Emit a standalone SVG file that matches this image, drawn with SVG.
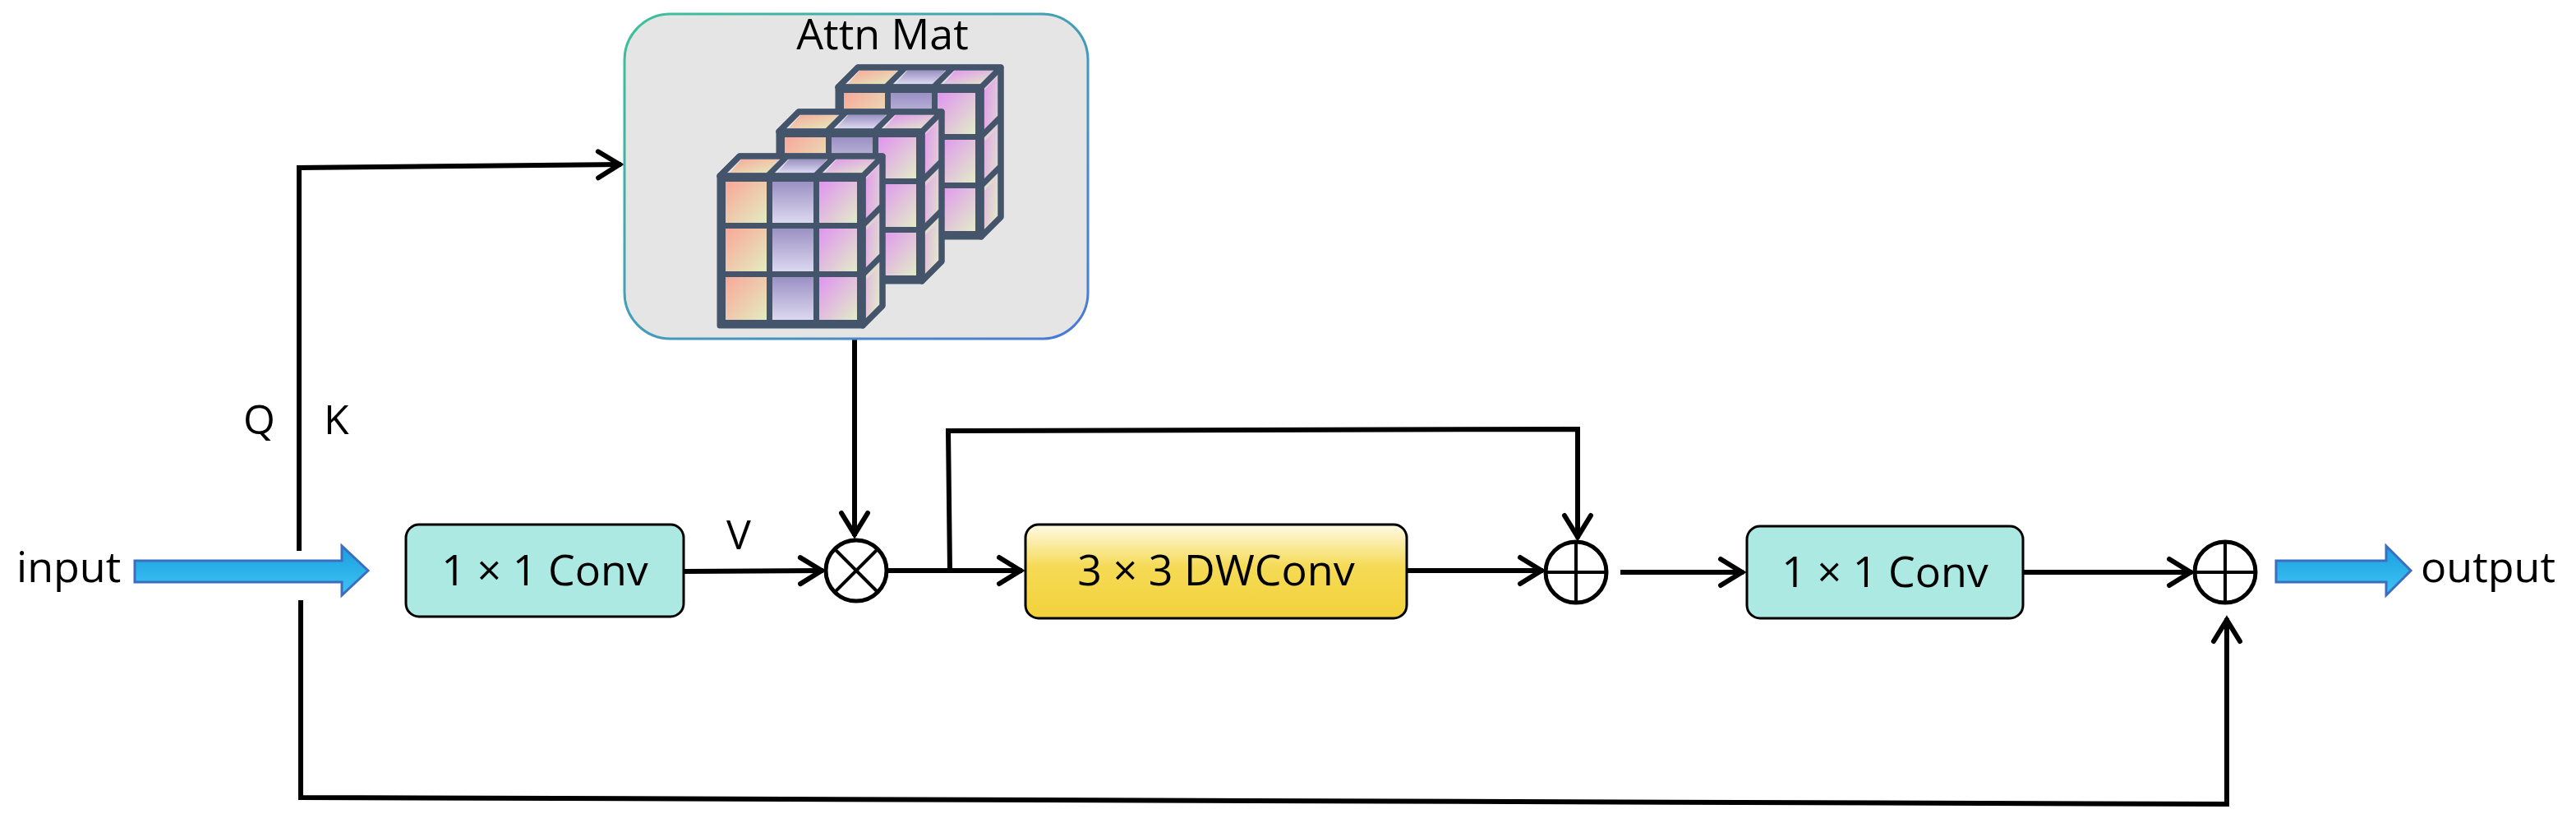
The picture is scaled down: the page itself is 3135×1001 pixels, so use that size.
<svg xmlns="http://www.w3.org/2000/svg" width="3135" height="1001" viewBox="0 0 3135 1001">
<style>
.t{font-family:"Open Sans","Liberation Sans",sans-serif;fill:#000}
.c{fill:none;stroke:#000;stroke-width:6}
.cube{stroke:#44546a;stroke-width:7;stroke-linejoin:round}
</style>
<defs>
<marker id="ar" viewBox="-30 -20 36 40" refX="2" refY="0" markerWidth="36" markerHeight="40" markerUnits="userSpaceOnUse" orient="auto">
<path d="M-26,-16 L0,0 L-26,16" fill="none" stroke="#000" stroke-width="6" stroke-linecap="round" stroke-linejoin="miter"/>
</marker>
<linearGradient id="bd" x1="0" y1="0" x2="1" y2="1"><stop offset="0" stop-color="#3dc29a"/><stop offset="1" stop-color="#4a78d6"/></linearGradient>
<linearGradient id="yl" x1="0" y1="0" x2="0" y2="1"><stop offset="0" stop-color="#fffbe6"/><stop offset="0.45" stop-color="#f5da55"/><stop offset="1" stop-color="#f2d23a"/></linearGradient>
<linearGradient id="bl" x1="0" y1="0" x2="0" y2="1"><stop offset="0" stop-color="#1a9edf"/><stop offset="1" stop-color="#40c4f4"/></linearGradient>
<linearGradient id="g1" x1="0" y1="0" x2="1" y2="1"><stop offset="0" stop-color="#f9a898"/><stop offset="1" stop-color="#e3ecc0"/></linearGradient>
<linearGradient id="g2" x1="0" y1="0" x2="0" y2="1"><stop offset="0" stop-color="#9b91c4"/><stop offset="1" stop-color="#dcd8ef"/></linearGradient>
<linearGradient id="g3" x1="0" y1="0" x2="1" y2="1"><stop offset="0" stop-color="#e094f0"/><stop offset="1" stop-color="#e2ecc8"/></linearGradient>
<g id="cub">
<path class="cube" d="M0,0 L24,-24 L198,-24 L198,158 L174,182 L174,0 Z" fill="url(#g3)"/>
<path class="cube" d="M0,0 L24,-24 L198,-24 L174,0 Z" fill="#e8e4ee"/>
<rect class="cube" x="0" y="0" width="174" height="182" fill="#44546a"/>
<rect x="7" y="7" width="50" height="50" fill="url(#g1)"/><rect x="64" y="7" width="50" height="50" fill="url(#g2)"/><rect x="121" y="7" width="46" height="50" fill="url(#g3)"/>
<rect x="7" y="64" width="50" height="52" fill="url(#g1)"/><rect x="64" y="64" width="50" height="52" fill="url(#g2)"/><rect x="121" y="64" width="46" height="52" fill="url(#g3)"/>
<rect x="7" y="123" width="50" height="52" fill="url(#g1)"/><rect x="64" y="123" width="50" height="52" fill="url(#g2)"/><rect x="121" y="123" width="46" height="52" fill="url(#g3)"/>
<path d="M12,-4 L26,-20 L72,-20 L58,-4 Z" fill="url(#g1)"/><path d="M70,-4 L84,-20 L130,-20 L116,-4 Z" fill="url(#g2)"/><path d="M128,-4 L142,-20 L192,-20 L176,-4 Z" fill="url(#g3)"/>
<path d="M178,4 L194,-12 L194,36 L178,52 Z M178,66 L194,50 L194,96 L178,112 Z M178,126 L194,110 L194,156 L178,172 Z" fill="url(#g3)" opacity="0.8"/>
<path class="cube" d="M0,0 L24,-24 L198,-24 L174,0 Z M58,0 L82,-24 M116,0 L140,-24 M174,0 L174,182 M174,60 L198,36 M174,120 L198,96 M198,-24 L198,158 L174,182" fill="none"/>
</g>
</defs>

<g id="connectors">
<path class="c" d="M364,670 L364,204 L756,200" marker-end="url(#ar)"/>
<path class="c" d="M366,730 L366,970 L2710,978 L2710,752" marker-end="url(#ar)"/>
<path class="c" d="M1040,412 L1040,652" marker-end="url(#ar)"/>
<path class="c" d="M832,695 L1002,694" marker-end="url(#ar)"/>
<path class="c" d="M1079,694 L1244,694" marker-end="url(#ar)"/>
<path class="c" d="M1156,694 L1154,524 L1920,522 L1920,655" marker-end="url(#ar)"/>
<path class="c" d="M1712,694 L1878,694" marker-end="url(#ar)"/>
<path class="c" d="M1972,696 L2122,696" marker-end="url(#ar)"/>
<path class="c" d="M2462,696 L2668,696" marker-end="url(#ar)"/>
</g>

<g id="attn">
<rect x="760" y="17" width="564" height="395" rx="56" fill="#e5e5e5" stroke="url(#bd)" stroke-width="3"/>
<text class="t" x="1074" y="60" font-size="52" text-anchor="middle">Attn Mat</text>
<use href="#cub" x="1020" y="106"/>
<use href="#cub" x="948" y="160"/>
<use href="#cub" x="876" y="214"/>
</g>

<g id="input">
<text class="t" x="20" y="708" font-size="52">input</text>
<path d="M164,682 L416,682 L416,664 L448,694 L416,724 L416,708 L164,708 Z" fill="url(#bl)" stroke="#3c6ec0" stroke-width="3"/>
</g>
<text class="t" x="296" y="528" font-size="50">Q</text>
<text class="t" x="394" y="528" font-size="50">K</text>
<text class="t" x="884" y="668" font-size="50">V</text>

<g id="conv1"><rect x="494" y="638" width="338" height="112" rx="16" fill="#ace9e3" stroke="#000" stroke-width="3"/><text class="t" x="663" y="712" font-size="52" text-anchor="middle">1 × 1 Conv</text></g>
<g id="mul"><circle cx="1042" cy="694" r="37" fill="#fff" stroke="#000" stroke-width="5"/><path d="M1016,668 L1068,720 M1068,668 L1016,720" stroke="#000" stroke-width="4"/></g>
<g id="dwconv"><rect x="1248" y="638" width="464" height="114" rx="16" fill="url(#yl)" stroke="#000" stroke-width="3"/><text class="t" x="1480" y="712" font-size="52" text-anchor="middle">3 × 3 DWConv</text></g>
<g id="add1"><circle cx="1918" cy="696" r="37" fill="#fff" stroke="#000" stroke-width="5"/><path d="M1881,696 L1955,696 M1918,659 L1918,733" stroke="#000" stroke-width="4"/></g>
<g id="conv2"><rect x="2126" y="640" width="336" height="112" rx="16" fill="#ace9e3" stroke="#000" stroke-width="3"/><text class="t" x="2294" y="714" font-size="52" text-anchor="middle">1 × 1 Conv</text></g>
<g id="add2"><circle cx="2708" cy="696" r="37" fill="#fff" stroke="#000" stroke-width="5"/><path d="M2671,696 L2745,696 M2708,659 L2708,733" stroke="#000" stroke-width="4"/></g>
<g id="output">
<path d="M2770,682 L2904,682 L2904,664 L2934,694 L2904,724 L2904,708 L2770,708 Z" fill="url(#bl)" stroke="#3c6ec0" stroke-width="3"/>
<text class="t" x="2946" y="708" font-size="52">output</text>
</g>
</svg>
